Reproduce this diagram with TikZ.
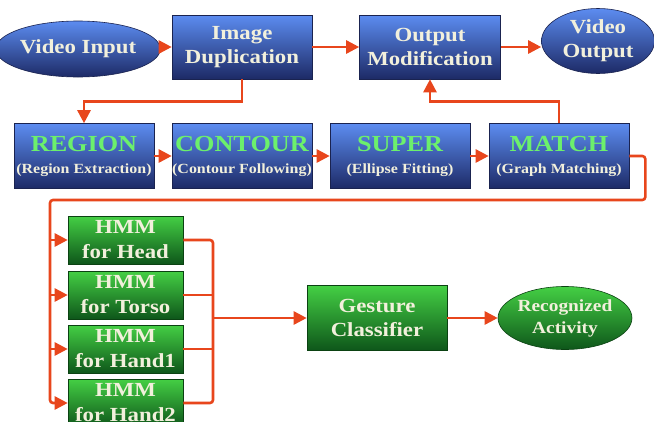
\documentclass[tikz,border=0pt]{standalone}
\usepackage{fontspec}
\setmainfont[FakeStretch=1.14]{Liberation Serif}
\usetikzlibrary{arrows.meta,shapes.geometric,calc}

\definecolor{btop}{HTML}{5C8CF0}
\definecolor{bmid}{HTML}{3A5FC8}
\definecolor{bbot}{HTML}{1D2A66}
\definecolor{bedge}{HTML}{1A2350}
\definecolor{gtop}{HTML}{44CF44}
\definecolor{gmid}{HTML}{229A2A}
\definecolor{gbot}{HTML}{0E561A}
\definecolor{gedge}{HTML}{0B4212}
\definecolor{cream}{HTML}{F2F0DC}
\definecolor{lgreen}{HTML}{6CF06C}
\definecolor{wire}{HTML}{E8461C}

\tikzset{
  bluebox/.style={rectangle, draw=bedge, line width=0.6pt,
    top color=btop, middle color=bmid, bottom color=bbot,
    minimum width=140, minimum height=64, inner sep=0pt,
    text=cream, align=center, font=\bfseries\fontsize{20}{24}\selectfont},
  blueoval/.style={bluebox, ellipse},
  stagebox/.style={bluebox, minimum height=65},
  greenbox/.style={rectangle, draw=gedge, line width=0.6pt,
    top color=gtop, middle color=gmid, bottom color=gbot,
    minimum width=140, minimum height=65, inner sep=0pt,
    text=cream, align=center, font=\bfseries\fontsize{20}{24}\selectfont},
  hmmbox/.style={greenbox, minimum width=115, minimum height=48,
    font=\bfseries\fontsize{20}{25}\selectfont},
  greenoval/.style={greenbox, ellipse, font=\bfseries\fontsize{17}{22}\selectfont},
  wireline/.style={draw=wire, line width=2.6pt},
  arr/.style={wireline, -{Triangle[length=13pt,width=13pt]}},
}
\newcommand{\stagetext}[2]{{\color{lgreen}\fontsize{23}{25}\selectfont #1}\\[-2pt]{\fontsize{14}{16}\selectfont #2}}

\begin{document}
\begin{tikzpicture}[x=1pt,y=-1pt]
\useasboundingbox (0,0) rectangle (654,421);
\clip (0,0) rectangle (654,421);
\fill[white] (0,0) rectangle (654,421);

% video pipeline
\node[blueoval, minimum width=128, minimum height=56] (vin) at (78,49) {Video Input};
\node[bluebox] (dup) at (242,47) {Image\\Duplication};
\node[bluebox, minimum width=141] (omod) at (430,47) {Output\\Modification};
\node[blueoval, minimum width=113, minimum height=65] (vout) at (598,41) {Video\\Output};

% processing stages
\node[stagebox] (region)  at (84,156)  {\stagetext{REGION}{(Region Extraction)}};
\node[stagebox] (contour) at (242,156) {\stagetext{CONTOUR}{(Contour Following)}};
\node[stagebox] (super)   at (400,156) {\stagetext{SUPER}{(Ellipse Fitting)}};
\node[stagebox] (match)   at (559,156) {\stagetext{MATCH}{(Graph Matching)}};

% recognition
\node[hmmbox] (head)  at (125.5,240) {HMM\\for Head};
\node[hmmbox] (torso) at (125.5,295) {HMM\\for Torso};
\node[hmmbox] (hand1) at (125.5,349) {HMM\\for Hand1};
\node[hmmbox] (hand2) at (125.5,403) {HMM\\for Hand2};
\node[greenbox] (gest) at (377,318) {Gesture\\Classifier};
\node[greenoval, minimum width=128, minimum height=63] (recog) at (565,318) {Recognized\\Activity};

\coordinate (bl) at (50,200);
\coordinate (br) at (213,318);

% connectors
\draw[arr] (vin.east |- dup.west) -- (dup.west);
\draw[arr] (dup.east) -- (omod.west);
\draw[arr] (omod.east) -- (omod.east -| vout.west);
\draw[arr] (dup.south) -- ++(0,22) -| (region.north);
\draw[arr] (region.east) -- (contour.west);
\draw[arr] (contour.east) -- (super.west);
\draw[arr] (super.east) -- (match.west);
\draw[arr] (match.north) -- ++(0,-22) -| (omod.south);

\draw[arr, rounded corners=3pt] (match.east) -- ++(16,0) |- (bl) -- (bl |- hand2.west) -- (hand2.west);
\draw[arr] (bl |- head.west) -- (head.west);
\draw[arr] (bl |- torso.west) -- (torso.west);
\draw[arr] (bl |- hand1.west) -- (hand1.west);

\draw[wireline, rounded corners=3pt] (head.east) -| (br |- hand2.east) -- (hand2.east);
\draw[wireline] (torso.east) -- (torso.east -| br);
\draw[wireline] (hand1.east) -- (hand1.east -| br);
\draw[arr] (br) -- (gest.west);
\draw[arr] (gest.east) -- (recog.west);
\end{tikzpicture}
\end{document}
